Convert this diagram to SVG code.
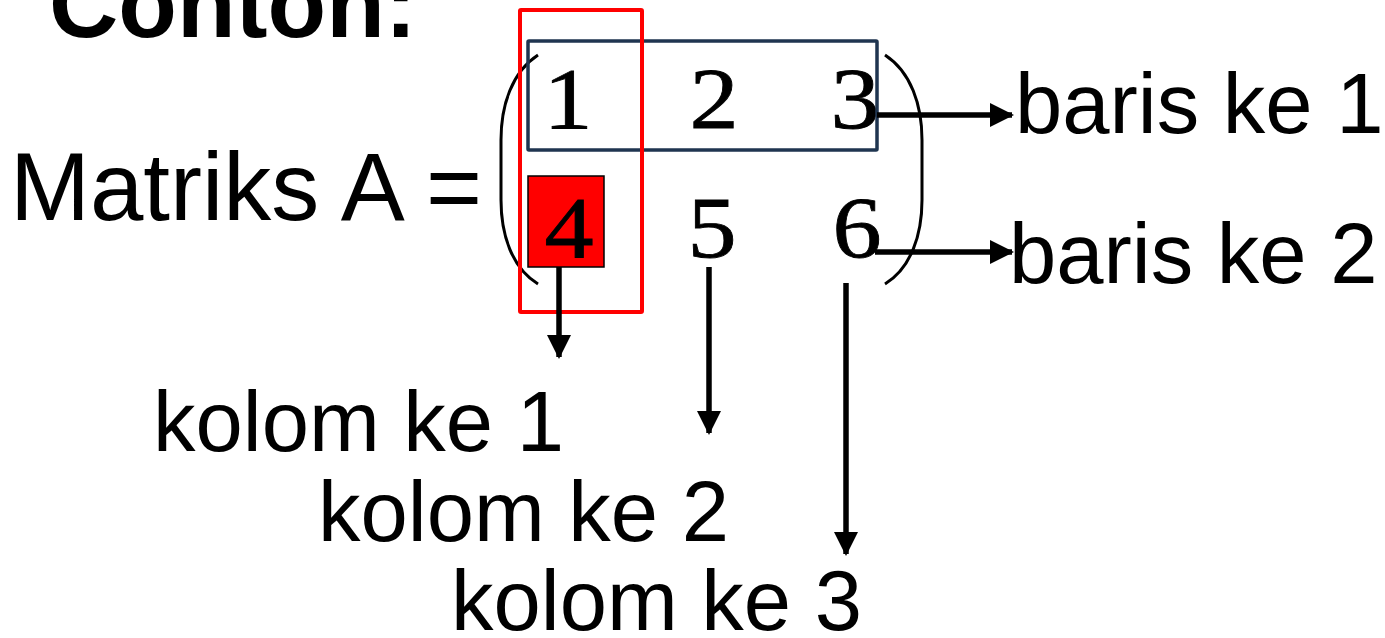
<svg xmlns="http://www.w3.org/2000/svg" width="1385" height="638" viewBox="0 0 1385 638">
  <style>
    .sans { font-family: "Liberation Sans", Arial, sans-serif; fill: #000; }
    .label { font-size: 85px; }
    .num { font-family: "Liberation Serif", "Times New Roman", serif; font-size: 87px; fill: #000; stroke: #000; stroke-width: 0.8; text-anchor: middle; }
    .arrow { stroke: #000; stroke-width: 5.5; fill: none; marker-end: url(#head); }
    .paren { stroke: #000; stroke-width: 3; fill: none; }
  </style>
  <defs>
    <marker id="head" markerUnits="userSpaceOnUse" markerWidth="24" markerHeight="24" viewBox="0 0 24 24" refX="22" refY="12" orient="auto">
      <path d="M0,0 L24,12 L0,24 Z" fill="#000"/>
    </marker>
  </defs>

  <rect width="1385" height="638" fill="#fff"/>

  <!-- heading -->
  <text class="sans" x="49" y="37" font-size="96" font-weight="bold">Contoh:</text>

  <!-- left side of the equation -->
  <g id="lhs">
    <text class="sans" x="10" y="220" font-size="96">Matriks A =</text>
  </g>

  <!-- matrix body -->
  <g id="matrix">
    <rect x="528" y="176" width="76" height="91" fill="#ff0000" stroke="#000" stroke-width="1.5"/>
    <path class="paren" d="M538,55 C512,72 501,105 501,140 L501,200 C501,235 512,268 538,284"/>
    <path class="paren" d="M885,55 C911,72 922,105 922,140 L922,200 C922,235 911,268 885,284"/>
    <text class="num" transform="translate(568,128) scale(1.13,1)">1</text>
    <text class="num" transform="translate(714,128) scale(1.13,1)">2</text>
    <text class="num" transform="translate(855,128) scale(1.13,1)">3</text>
    <text class="num" transform="translate(569,257) scale(1.13,1)">4</text>
    <text class="num" transform="translate(712,257) scale(1.13,1)">5</text>
    <text class="num" transform="translate(857,257) scale(1.13,1)">6</text>
  </g>

  <!-- row 1 highlight -->
  <g id="row-1-box">
    <rect x="528" y="41" width="349" height="109" fill="none" stroke="#1f3550" stroke-width="3.5" rx="1"/>
  </g>

  <!-- column 1 highlight -->
  <g id="col-1-box">
    <rect x="520" y="10" width="122" height="302" fill="none" stroke="#ff0000" stroke-width="4" rx="1"/>
  </g>

  <!-- connectors -->
  <g id="connectors">
    <line class="arrow" x1="877" y1="115" x2="1012" y2="115"/>
    <line class="arrow" x1="875" y1="252" x2="1012" y2="252"/>
    <line class="arrow" x1="559" y1="267" x2="559" y2="357"/>
    <line class="arrow" x1="709" y1="267" x2="709" y2="433"/>
    <line class="arrow" x1="846" y1="283" x2="846" y2="554"/>
  </g>

  <!-- labels -->
  <g id="row-1-label"><text class="sans label" x="1015" y="133">baris ke 1</text></g>
  <g id="row-2-label"><text class="sans label" x="1009" y="283">baris ke 2</text></g>
  <g id="col-1-label"><text class="sans label" x="153" y="451">kolom ke 1</text></g>
  <g id="col-2-label"><text class="sans label" x="318" y="541">kolom ke 2</text></g>
  <g id="col-3-label"><text class="sans label" x="451" y="630">kolom ke 3</text></g>
</svg>
